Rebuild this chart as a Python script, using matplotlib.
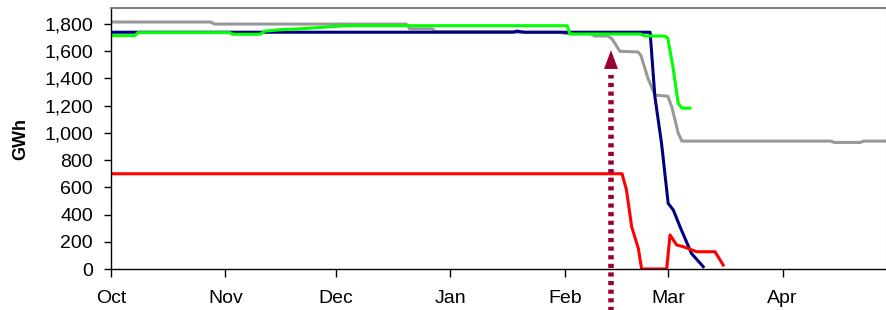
import matplotlib
matplotlib.use("Agg")
import matplotlib.pyplot as plt
from matplotlib.ticker import FuncFormatter

plt.rcParams['font.family'] = ['Liberation Sans', 'DejaVu Sans']

# x values are days since 1 October
month_days = [0, 31, 61, 92, 123, 151, 182]
month_labels = ["Oct", "Nov", "Dec", "Jan", "Feb", "Mar", "Apr"]

gray_x = [0, 27, 28, 80, 81, 87, 88, 109, 110, 122, 123, 130, 131, 134.7, 135.8,
          137.9, 142.8, 143.6, 145.5, 147.4, 150.9, 152, 153.7, 154.7, 195, 196,
          203, 204, 210.3]
gray_y = [1815, 1815, 1800, 1800, 1765, 1765, 1745, 1745, 1740, 1740, 1730, 1730,
          1712, 1712, 1690, 1600, 1595, 1570, 1403, 1278, 1270, 1190, 1000, 940,
          940, 930, 930, 940, 940]

blue_x = [0, 109, 110, 112, 146.1, 147.4, 149.2, 151.0, 152.4, 154.2, 157.3, 160.5]
blue_y = [1740, 1740, 1748, 1740, 1740, 1266, 923, 482, 433, 311, 115, 17]

green_x = [0, 6.5, 7.3, 32.2, 33, 40.4, 41.7, 45.8, 51.2, 59.3, 63.4, 123.6, 124.4,
           143.4, 144.7, 150.1, 150.9, 152.3, 153.7, 154.7, 156.9]
green_y = [1715, 1715, 1737, 1737, 1725, 1725, 1748, 1758, 1765, 1780, 1788, 1788,
           1727, 1727, 1712, 1712, 1695, 1484, 1219, 1182, 1182]

red_x = [0, 138.5, 139.7, 141.1, 142.9, 143.8, 150.6, 151.5, 153.3, 155.1, 158.7,
         163.7, 165.9]
red_y = [700, 700, 580, 311, 152, 0, 0, 250, 176, 164, 127, 127, 29]

arrow_day = 135.5
arrow_tip = 1609
arrow_base = 1467

fig = plt.figure(figsize=(8.87, 3.10), dpi=100)
ax = fig.add_axes([111/887, 1 - 269/310, 776/887, (269 - 8)/310])

lw = 2.2
ax.plot(gray_x, gray_y, color='#999999', lw=lw, solid_joinstyle='round')
ax.plot(blue_x, blue_y, color='#000080', lw=lw, solid_joinstyle='round')
ax.plot(green_x, green_y, color='#00FF00', lw=lw, solid_joinstyle='round')
ax.plot(red_x, red_y, color='#FF0000', lw=lw, solid_joinstyle='round')

arrow_color = '#990033'
ax.plot([arrow_day, arrow_day], [-400, arrow_base - 40], color=arrow_color, lw=4,
        ls=(0, (0.75, 0.8)), solid_capstyle='butt', dash_capstyle='butt',
        clip_on=False)
ax.annotate('', xy=(arrow_day, arrow_tip), xytext=(arrow_day, arrow_base),
            arrowprops=dict(arrowstyle='-|>,head_length=0.68,head_width=0.25',
                            mutation_scale=20, color=arrow_color, lw=0,
                            shrinkA=0, shrinkB=0))

ax.set_xlim(0, 210.3)
ax.set_ylim(0, 1918)
ax.set_xticks(month_days)
ax.set_xticklabels(month_labels)
ax.set_yticks(range(0, 1801, 200))
ax.yaxis.set_major_formatter(FuncFormatter(lambda v, p: f"{int(v):,}"))
ax.tick_params(axis='x', length=6, width=1, pad=9, labelsize=14, direction='out')
ax.tick_params(axis='y', length=5, width=1, pad=8, labelsize=14, direction='out')
ax.set_ylabel('GWh', fontsize=13, fontweight='bold', labelpad=11)

for s in ['left', 'bottom']:
    ax.spines[s].set_color('black')
    ax.spines[s].set_linewidth(1)
for s in ['top', 'right']:
    ax.spines[s].set_color('#808080')
    ax.spines[s].set_linewidth(1.5)

fig.savefig('out.png', dpi=100)
